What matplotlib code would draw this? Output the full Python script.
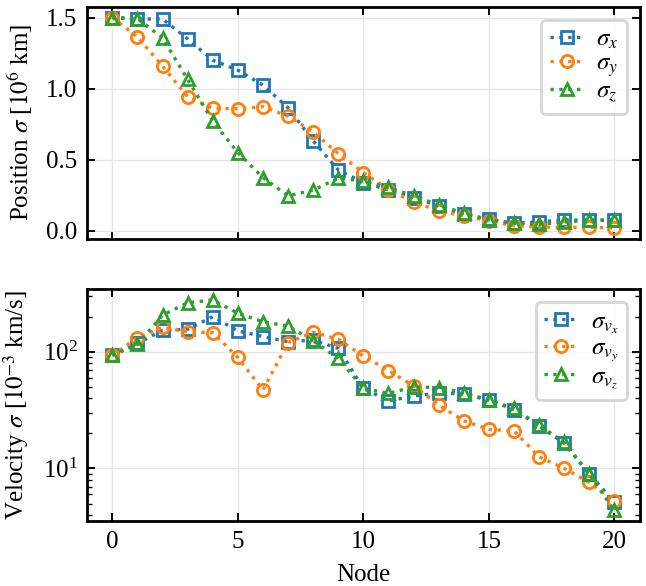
import numpy as np
import matplotlib
matplotlib.use("Agg")
import matplotlib.pyplot as plt

plt.rcParams['font.family'] = 'serif'
plt.rcParams['font.serif'] = ['Liberation Serif', 'DejaVu Serif']
plt.rcParams['mathtext.fontset'] = 'stix'
plt.rcParams['font.size'] = 9

nodes = np.arange(21)

# position sigma [1e6 km]
pos_x = [1.50, 1.49, 1.49, 1.35, 1.20, 1.13, 1.025, 0.866, 0.632, 0.428, 0.34,
         0.288, 0.234, 0.175, 0.117, 0.082, 0.054, 0.063, 0.077, 0.074, 0.074]
pos_y = [1.50, 1.364, 1.158, 0.943, 0.861, 0.859, 0.873, 0.807, 0.695, 0.543, 0.41,
         0.29, 0.204, 0.14, 0.105, 0.07, 0.035, 0.027, 0.025, 0.025, 0.02]
pos_z = [1.50, 1.493, 1.357, 1.065, 0.772, 0.55, 0.375, 0.246, 0.286, 0.37, 0.351,
         0.305, 0.246, 0.183, 0.124, 0.077, 0.054, 0.047, 0.061, 0.077, 0.077]

# velocity sigma [1e-3 km/s]
vel_x = [93, 118, 153, 156, 200, 151, 135, 122, 126, 107, 48.5,
         38, 41.7, 44.5, 43.4, 38.5, 32, 23, 16.5, 9.0, 5.15]
vel_y = [93, 132, 162, 148, 146, 89.5, 47, 120, 147, 128, 92,
         69, 51, 35, 25.6, 21.6, 21, 12.6, 10, 7.6, 5.26]
vel_z = [93, 116, 206, 263, 278, 214, 181, 166, 124, 88, 48.5,
         44, 50, 49.4, 44.5, 38.5, 32.7, 23.5, 16.7, 8.9, 4.37]

pos_labels = [r'$\sigma_x$', r'$\sigma_y$', r'$\sigma_z$']
vel_labels = [r'$\sigma_{v_x}$', r'$\sigma_{v_y}$', r'$\sigma_{v_z}$']
colors = ['tab:blue', 'tab:orange', 'tab:green']
markers = ['s', 'o', '^']

fig, (ax1, ax2) = plt.subplots(2, 1, figsize=(3.23, 2.93), dpi=200, sharex=True)
fig.subplots_adjust(left=0.135, right=0.99, top=0.988, bottom=0.111, hspace=0.22)

for data, lab, c, m in zip([pos_x, pos_y, pos_z], pos_labels, colors, markers):
    ax1.plot(nodes, data, ls=':', lw=1.2, color=c, marker=m, ms=4.4,
             mfc='none', mew=1.0, label=lab)
for data, lab, c, m in zip([vel_x, vel_y, vel_z], vel_labels, colors, markers):
    ax2.plot(nodes, data, ls=':', lw=1.2, color=c, marker=m, ms=4.4,
             mfc='none', mew=1.0, label=lab)

ax2.set_yscale('log')
ax1.set_yticks([0.0, 0.5, 1.0, 1.5])
ax1.set_ylabel(r'Position $\sigma$ [$10^6$ km]')
ax2.set_ylabel(r'Velocity $\sigma$ [$10^{-3}$ km/s]')
ax2.set_xlabel('Node')
ax2.set_xticks([0, 5, 10, 15, 20])

for ax in (ax1, ax2):
    ax.grid(True, which='major', color='0.9', lw=0.5)
    ax.tick_params(which='both', direction='in', top=True, right=True)
    ax.tick_params(which='major', length=3, width=0.7)
    ax.tick_params(which='minor', length=1.8, width=0.5)
    for s in ax.spines.values():
        s.set_linewidth(1.0)
    ax.legend(loc='upper right', handlelength=1.35, labelspacing=0.05,
              handletextpad=0.5, borderpad=0.35, fontsize=9)

fig.savefig('out.png', dpi=200)
